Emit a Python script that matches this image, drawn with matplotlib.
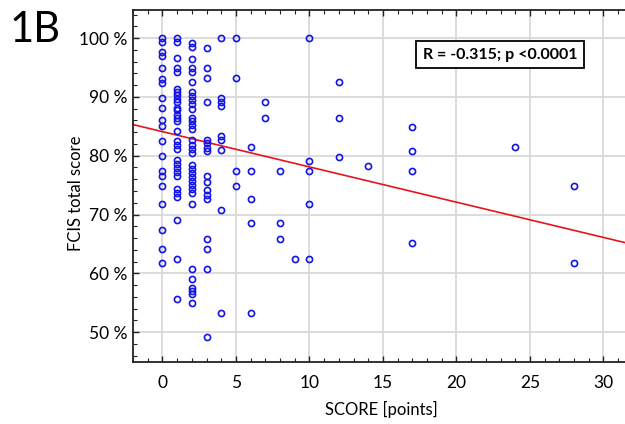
import numpy as np
import matplotlib
matplotlib.use('Agg')
import matplotlib.pyplot as plt
from matplotlib.ticker import MultipleLocator

plt.rcParams['font.family'] = ['Lato', 'DejaVu Sans']

# FCIS total score (%), one list per SCORE value
fcis_at_0 = [100.0, 99.3, 97.6, 96.9, 95.0, 93.1, 92.4, 89.9, 88.2, 86.0, 85.0,
             82.5, 79.9, 77.4, 76.5, 74.9, 71.8, 67.3, 64.1, 61.7]
fcis_at_1 = [100.0, 99.3, 96.6, 94.9, 94.2, 91.4, 90.9, 90.3, 89.7, 89.2, 88.2,
             87.8, 87.0, 86.5, 85.9, 84.2, 82.5, 81.8, 81.1, 79.3, 78.6, 77.9,
             77.2, 76.5, 74.4, 73.7, 73.0, 69.1, 62.4, 55.7]
fcis_at_2 = [99.2, 98.5, 96.5, 94.9, 94.2, 92.5, 90.9, 90.2, 89.5, 88.8, 88.0,
             86.5, 85.9, 85.2, 84.5, 82.6, 81.9, 81.2, 80.5, 78.4, 77.7, 77.0,
             76.4, 75.7, 75.0, 74.3, 73.6, 71.8, 60.7, 59.0, 57.5, 57.0, 56.5, 55.0]
fcis_at_3 = [98.3, 94.9, 93.2, 89.2, 82.7, 82.1, 81.4, 80.8, 76.5, 75.6, 74.2,
             73.4, 72.6, 65.8, 64.1, 60.7, 49.1]
fcis_at_4 = [100.0, 89.9, 89.2, 88.4, 83.3, 82.6, 80.9, 70.7, 53.3]
fcis_at_5 = [100.0, 93.2, 77.4, 74.8]
fcis_at_6 = [81.5, 77.4, 72.6, 68.5, 53.3]

other_scores = [7, 7, 8, 8, 8, 9, 10, 10, 10, 10, 10, 12, 12, 12, 14,
                17, 17, 17, 17, 24, 28, 28]
other_fcis = [89.2, 86.5, 77.4, 68.5, 65.8, 62.4, 100.0, 79.1, 77.4, 71.8, 62.4,
              92.6, 86.5, 79.8, 78.2, 84.9, 80.8, 77.4, 65.1, 81.5, 74.8, 61.7]

# regression line
fit_intercept = 84.1
fit_slope = -0.6

columns = [fcis_at_0, fcis_at_1, fcis_at_2, fcis_at_3, fcis_at_4, fcis_at_5, fcis_at_6]
x = []
y = []
for s, vals in enumerate(columns):
    x += [s] * len(vals)
    y += vals
x = np.array(x + other_scores, dtype=float)
y = np.array(y + other_fcis)

W, H = 625, 424
fig = plt.figure(figsize=(W / 100, H / 100), dpi=100)
ax = fig.add_axes([133 / W, 62 / H, 499.8 / W, 352 / H])

xlim = (-2, 32)
ax.set_xlim(*xlim)
ax.set_ylim(44.9, 104.8)

ax.grid(True, color='#d9d9d9', lw=1.3, zorder=0)
ax.set_axisbelow(True)

xl = np.array(xlim)
ax.plot(xl, fit_intercept + fit_slope * xl, color='#e8141b', lw=1.2, zorder=2)
ax.plot(x, y, 'o', ms=4.4, mfc='none', mec='#1414e6', mew=1.2, zorder=3)

ax.xaxis.set_major_locator(MultipleLocator(5))
ax.xaxis.set_minor_locator(MultipleLocator(1))
ax.yaxis.set_major_locator(MultipleLocator(10))
ax.yaxis.set_minor_locator(MultipleLocator(2))
ax.set_yticks(range(50, 101, 10))
ax.set_yticklabels([f'{v} %' for v in range(50, 101, 10)])

ax.tick_params(which='both', direction='in', top=True, right=True, color='#222222')
ax.tick_params(which='major', length=4, width=1.0)
ax.tick_params(which='minor', length=3, width=0.8)
ax.tick_params(axis='x', which='major', labelsize=12.5, pad=9)
ax.tick_params(axis='y', which='major', labelsize=12.5, pad=4)
for sp in ax.spines.values():
    sp.set_linewidth(1.3)
    sp.set_color('#222222')

ax.set_xlabel('SCORE [points]', fontsize=12)
ax.xaxis.set_label_coords((381 - 133) / 499.8, -0.112)
ax.set_ylabel('FCIS total score', fontsize=12)
ax.yaxis.set_label_coords(-0.098, (362 - 193) / 352)

ax.text((500 - 133) / 499.8, (362 - 54.5) / 352, 'R = -0.315; p <0.0001',
        transform=ax.transAxes, fontsize=11.5, fontweight='bold',
        ha='center', va='center', zorder=5,
        bbox=dict(boxstyle='square,pad=0.4', fc='white', ec='black', lw=1.3))

fig.text(10 / W, 1 - 42 / H, '1B', fontsize=30, va='baseline', ha='left')

fig.savefig('out.png', dpi=100)
